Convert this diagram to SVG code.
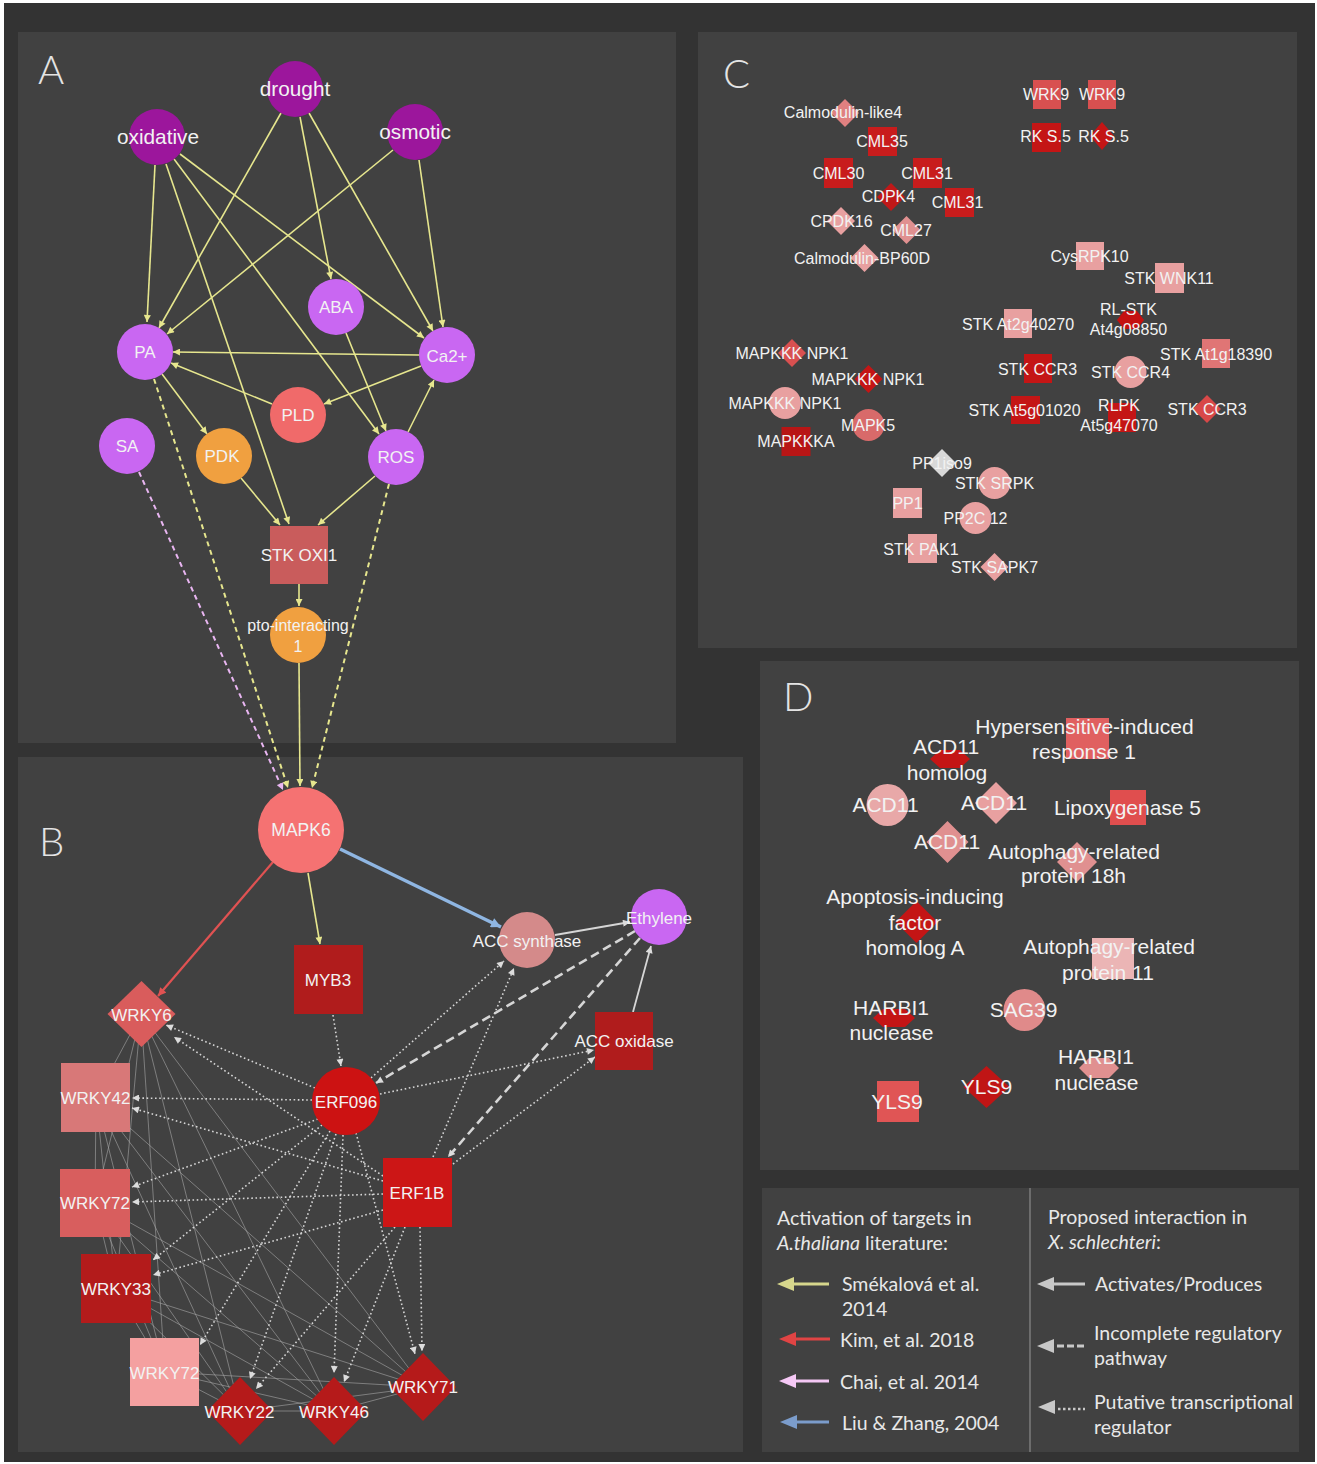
<svg xmlns="http://www.w3.org/2000/svg" width="1317" height="1464" viewBox="0 0 1317 1464">
<style>
.panel{fill:#414141}
.t{font-family:"Liberation Sans",Arial,sans-serif;fill:#f2f2f2;text-anchor:middle;font-size:17px}
.big{font-size:20.8px}
.c{font-size:16px}
.d{font-size:21px}
.lbl{font-family:Lato,"Open Sans",sans-serif;font-weight:300;fill:#e4e4e4;font-size:40px}
.lg{font-family:Lato,"Open Sans",sans-serif;fill:#e8e8e8;font-size:19.5px}
.ey{stroke:#e6e68e;stroke-width:1.6;fill:none;marker-end:url(#my)}
.eyd{stroke:#e6e68e;stroke-width:2;stroke-dasharray:5 4;fill:none;marker-end:url(#my)}
.epd{stroke:#e9b6f2;stroke-width:2;stroke-dasharray:5 4;fill:none;marker-end:url(#mp)}
.er{stroke:#e05252;stroke-width:2.2;fill:none;marker-end:url(#mr)}
.eb{stroke:#8fb6e2;stroke-width:3.5;fill:none;marker-end:url(#mb)}
.eg{stroke:#d6d6d6;stroke-width:1.8;fill:none;marker-end:url(#mg)}
.egd{stroke:#d6d6d6;stroke-width:2.6;stroke-dasharray:9 5;fill:none;marker-end:url(#mg)}
.edot{stroke:#d6d6d6;stroke-width:1.6;stroke-dasharray:1.6 2.6;fill:none;marker-end:url(#mg)}
.mesh{stroke:#a8a8a8;stroke-width:0.8;fill:none;opacity:0.75}
</style>
<defs>
<marker id="my" viewBox="0 0 10 10" refX="10" refY="5" markerWidth="8" markerHeight="7" markerUnits="userSpaceOnUse" orient="auto"><path d="M0,0L10,5L0,10z" fill="#e6e68e"/></marker>
<marker id="mp" viewBox="0 0 10 10" refX="10" refY="5" markerWidth="8" markerHeight="7" markerUnits="userSpaceOnUse" orient="auto"><path d="M0,0L10,5L0,10z" fill="#e9b6f2"/></marker>
<marker id="mr" viewBox="0 0 10 10" refX="10" refY="5" markerWidth="9" markerHeight="8" markerUnits="userSpaceOnUse" orient="auto"><path d="M0,0L10,5L0,10z" fill="#e05252"/></marker>
<marker id="mb" viewBox="0 0 10 10" refX="10" refY="5" markerWidth="11" markerHeight="10" markerUnits="userSpaceOnUse" orient="auto"><path d="M0,0L10,5L0,10z" fill="#8fb6e2"/></marker>
<marker id="mg" viewBox="0 0 10 10" refX="10" refY="5" markerWidth="8" markerHeight="7" markerUnits="userSpaceOnUse" orient="auto"><path d="M0,0L10,5L0,10z" fill="#dcdcdc"/></marker>
</defs>
<rect x="0" y="0" width="1317" height="1464" fill="#ffffff"/>
<rect x="4" y="3" width="1311" height="1459" fill="#333333"/>
<g id="panels">
<rect class="panel" x="18" y="32" width="658" height="711"/>
<rect class="panel" x="18" y="757" width="725" height="695"/>
<rect class="panel" x="698" y="32" width="599" height="616"/>
<rect class="panel" x="760" y="661" width="539" height="509"/>
<rect class="panel" x="762" y="1188" width="537" height="264"/>
<text class="lbl" x="38" y="84">A</text>
<text class="lbl" x="39" y="856">B</text>
<text class="lbl" x="723" y="88">C</text>
<text class="lbl" x="783" y="711">D</text>
</g>
<g id="connectors">
<path class="mesh" d="M141,1014L96,1098M141,1014L95,1203M141,1014L116,1289M141,1014L165,1372M141,1014L240,1411M141,1014L334,1411M141,1014L423,1387M96,1098L95,1203M96,1098L116,1289M96,1098L165,1372M96,1098L240,1411M96,1098L334,1411M96,1098L423,1387M95,1203L116,1289M95,1203L165,1372M95,1203L240,1411M95,1203L334,1411M95,1203L423,1387M116,1289L165,1372M116,1289L240,1411M116,1289L334,1411M116,1289L423,1387M165,1372L240,1411M165,1372L334,1411M165,1372L423,1387M240,1411L334,1411M240,1411L423,1387M334,1411L423,1387"/>
<line class="ey" x1="155" y1="165" x2="147" y2="322"/>
<line class="ey" x1="166" y1="164" x2="289" y2="524"/>
<line class="ey" x1="174" y1="159" x2="379" y2="434"/>
<line class="ey" x1="180" y1="154" x2="424" y2="338"/>
<line class="ey" x1="281" y1="113" x2="159" y2="328"/>
<line class="ey" x1="300" y1="117" x2="331" y2="279"/>
<line class="ey" x1="309" y1="113" x2="433" y2="331"/>
<line class="ey" x1="393" y1="150" x2="167" y2="334"/>
<line class="ey" x1="419" y1="160" x2="443" y2="327"/>
<line class="ey" x1="346" y1="333" x2="386" y2="431"/>
<line class="ey" x1="419" y1="355" x2="173" y2="352"/>
<line class="ey" x1="272" y1="404" x2="171" y2="363"/>
<line class="ey" x1="421" y1="366" x2="324" y2="404"/>
<line class="ey" x1="408" y1="432" x2="434" y2="380"/>
<line class="ey" x1="162" y1="374" x2="207" y2="434"/>
<line class="ey" x1="241" y1="478" x2="280" y2="525"/>
<line class="ey" x1="375" y1="476" x2="318" y2="525"/>
<line class="ey" x1="299" y1="584" x2="299" y2="606"/>
<line class="ey" x1="299" y1="663" x2="300" y2="786"/>
<line class="eyd" x1="154" y1="379" x2="288" y2="788"/>
<line class="eyd" x1="389" y1="484" x2="312" y2="788"/>
<line class="epd" x1="139" y1="472" x2="283" y2="790"/>
<line class="er" x1="273" y1="862" x2="158" y2="996"/>
<line class="ey" x1="308" y1="873" x2="320" y2="944"/>
<line class="eb" x1="340" y1="849" x2="501" y2="927"/>
<line class="eg" x1="555" y1="935" x2="630" y2="922"/>
<line class="eg" x1="633" y1="1012" x2="651" y2="946"/>
<line class="egd" x1="635" y1="931" x2="376" y2="1083"/>
<line class="egd" x1="640" y1="938" x2="448" y2="1157"/>
<line class="edot" x1="333" y1="1015" x2="341" y2="1066"/>
<line class="edot" x1="371" y1="1078" x2="504" y2="961"/>
<line class="edot" x1="433" y1="1157" x2="514" y2="968"/>
<line class="edot" x1="380" y1="1094" x2="594" y2="1050"/>
<line class="edot" x1="453" y1="1164" x2="595" y2="1057"/>
<line class="edot" x1="315" y1="1088" x2="166" y2="1025"/>
<line class="edot" x1="383" y1="1176" x2="174" y2="1037"/>
<line class="edot" x1="312" y1="1100" x2="132" y2="1098"/>
<line class="edot" x1="383" y1="1181" x2="132" y2="1108"/>
<line class="edot" x1="318" y1="1119" x2="132" y2="1187"/>
<line class="edot" x1="383" y1="1194" x2="132" y2="1202"/>
<line class="edot" x1="322" y1="1125" x2="153" y2="1260"/>
<line class="edot" x1="383" y1="1210" x2="153" y2="1275"/>
<line class="edot" x1="330" y1="1131" x2="200" y2="1345"/>
<line class="edot" x1="336" y1="1134" x2="250" y2="1379"/>
<line class="edot" x1="395" y1="1227" x2="256" y2="1389"/>
<line class="edot" x1="343" y1="1135" x2="334" y2="1373"/>
<line class="edot" x1="405" y1="1227" x2="344" y2="1382"/>
<line class="edot" x1="356" y1="1133" x2="415" y2="1354"/>
<line class="edot" x1="420" y1="1227" x2="422" y2="1351"/>
</g>
<g id="nodes-A">
<g id="n-drought"><circle cx="295" cy="89" r="28" fill="#9c169c"/><text class="t big" x="295" y="96">drought</text></g>
<g id="n-oxidative"><circle cx="157" cy="137" r="28" fill="#9c169c"/><text class="t big" x="158" y="144">oxidative</text></g>
<g id="n-osmotic"><circle cx="415" cy="132" r="28" fill="#9c169c"/><text class="t big" x="415" y="139">osmotic</text></g>
<g id="n-ABA"><circle cx="336" cy="307" r="28" fill="#c967f2"/><text class="t" x="336" y="313">ABA</text></g>
<g id="n-PA"><circle cx="145" cy="352" r="28" fill="#c967f2"/><text class="t" x="145" y="358">PA</text></g>
<g id="n-Ca"><circle cx="447" cy="355" r="28" fill="#c967f2"/><text class="t" x="447" y="362">Ca2+</text></g>
<g id="n-PLD"><circle cx="298" cy="415" r="28" fill="#f06a6a"/><text class="t" x="298" y="421">PLD</text></g>
<g id="n-SA"><circle cx="127" cy="446" r="28" fill="#c967f2"/><text class="t" x="127" y="452">SA</text></g>
<g id="n-PDK"><circle cx="224" cy="456" r="28" fill="#f0a040"/><text class="t" x="222" y="462">PDK</text></g>
<g id="n-ROS"><circle cx="396" cy="457" r="28" fill="#c967f2"/><text class="t" x="396" y="463">ROS</text></g>
<g id="n-OXI1"><rect x="270" y="526" width="58" height="58" fill="#c95c5c"/><text class="t" x="299" y="561">STK OXI1</text></g>
<g id="n-pto"><circle cx="298" cy="635" r="28" fill="#f0a040"/><text class="t" style="font-size:16px" x="298" y="631">pto-interacting</text><text class="t" style="font-size:16px" x="298" y="652">1</text></g>
</g>
<g id="nodes-B">
<g id="n-MAPK6"><circle cx="301" cy="830" r="43" fill="#f57272"/><text class="t" style="font-size:17.5px" x="301" y="836">MAPK6</text></g>
<g id="n-ACCs"><circle cx="527" cy="940" r="28" fill="#d48a8a"/><text class="t" x="527" y="947">ACC synthase</text></g>
<g id="n-Ethylene"><circle cx="659" cy="917" r="28" fill="#c967f2"/><text class="t" x="659" y="924">Ethylene</text></g>
<g id="n-MYB3"><rect x="294" y="945" width="69" height="69" fill="#b01c1c"/><text class="t" x="328" y="986">MYB3</text></g>
<g id="n-WRKY6"><polygon points="141.5,981 175.5,1014 141.5,1047 107.5,1014" fill="#d95c5c"/><text class="t" x="141.5" y="1021">WRKY6</text></g>
<g id="n-ACCo"><rect x="595" y="1012" width="58" height="58" fill="#b01c1c"/><text class="t" x="624" y="1047">ACC oxidase</text></g>
<g id="n-ERF096"><circle cx="346" cy="1101" r="34" fill="#cc1212"/><text class="t" x="346" y="1108">ERF096</text></g>
<g id="n-WRKY42"><rect x="61" y="1063" width="69" height="69" fill="#d87878"/><text class="t" x="95.5" y="1104">WRKY42</text></g>
<g id="n-ERF1B"><rect x="383" y="1158" width="69" height="69" fill="#cc1616"/><text class="t" x="417" y="1199">ERF1B</text></g>
<g id="n-WRKY72a"><rect x="60" y="1169" width="70" height="68" fill="#d85e5e"/><text class="t" x="95" y="1209">WRKY72</text></g>
<g id="n-WRKY33"><rect x="81" y="1254" width="70" height="69" fill="#b31b1b"/><text class="t" x="116" y="1295">WRKY33</text></g>
<g id="n-WRKY72b"><rect x="130" y="1338" width="69" height="68" fill="#f4a0a0"/><text class="t" x="164.5" y="1379">WRKY72</text></g>
<g id="n-WRKY22"><polygon points="240,1377 273,1411 240,1445 207,1411" fill="#b51a1a"/><text class="t" x="239.5" y="1418">WRKY22</text></g>
<g id="n-WRKY46"><polygon points="334,1377 367,1411 334,1445 301,1411" fill="#b51a1a"/><text class="t" x="334" y="1418">WRKY46</text></g>
<g id="n-WRKY71"><polygon points="423,1353 456,1387 423,1421 390,1387" fill="#b51a1a"/><text class="t" x="423" y="1393">WRKY71</text></g>
</g>
<g id="nodes-C">
<g id="c1"><polygon points="845,99 859,113 845,127 831,113" fill="#e08080"/><text class="t c" x="843" y="118">Calmodulin-like4</text></g>
<g id="c2"><rect x="868" y="127" width="29" height="29" fill="#c81c1c"/><text class="t c" x="882" y="147">CML35</text></g>
<g id="c3"><rect x="824" y="158" width="29" height="30" fill="#c81c1c"/><text class="t c" x="838.5" y="179">CML30</text></g>
<g id="c4"><rect x="913" y="158" width="29" height="30" fill="#c81c1c"/><text class="t c" x="927" y="179">CML31</text></g>
<g id="c5"><polygon points="891,183 905,197 891,211 877,197" fill="#c01818"/><text class="t c" x="888.5" y="202">CDPK4</text></g>
<g id="c6"><rect x="945" y="188" width="29" height="29" fill="#c81c1c"/><text class="t c" x="957.5" y="208">CML31</text></g>
<g id="c7"><polygon points="841,207 855,221 841,235 827,221" fill="#e8a0a0"/><text class="t c" x="841.5" y="227">CPDK16</text></g>
<g id="c8"><polygon points="906.5,216 920.5,230 906.5,244 892.5,230" fill="#e09090"/><text class="t c" x="906" y="236">CML27</text></g>
<g id="c9"><polygon points="864.5,244 878.5,258 864.5,272 850.5,258" fill="#e8a0a0"/><text class="t c" x="862" y="264">Calmodulin-BP60D</text></g>
<g id="c10"><rect x="1033" y="80" width="28" height="29" fill="#d85050"/><text class="t c" x="1046" y="100">WRK9</text></g>
<g id="c11"><rect x="1088" y="80" width="28" height="29" fill="#d85050"/><text class="t c" x="1102" y="100">WRK9</text></g>
<g id="c12"><rect x="1032" y="123" width="29" height="29" fill="#c41515"/><text class="t c" x="1045.5" y="142">RK S.5</text></g>
<g id="c13"><polygon points="1102,122 1114,136 1102,150 1090,136" fill="#c41515"/><text class="t c" x="1103.5" y="142">RK S.5</text></g>
<g id="c14"><rect x="1076" y="242" width="28" height="28" fill="#e8a0a0"/><text class="t c" x="1089.5" y="262">CysRPK10</text></g>
<g id="c15"><rect x="1155" y="263" width="29" height="30" fill="#e8a0a0"/><text class="t c" x="1169" y="284">STK WNK11</text></g>
<g id="c16"><polygon points="1117,320 1124,311 1137,311 1144,320 1137,329 1124,329" fill="#c41010"/><text class="t c" x="1128.5" y="315">RL-STK</text><text class="t c" x="1128.5" y="335">At4g08850</text></g>
<g id="c17"><rect x="1004" y="309" width="28" height="29" fill="#e8a0a0"/><text class="t c" x="1018" y="330">STK At2g40270</text></g>
<g id="c18"><polygon points="792,339 806,353 792,367 778,353" fill="#d85050"/><text class="t c" x="792" y="359">MAPKKK NPK1</text></g>
<g id="c19"><polygon points="868.5,365 882.5,379 868.5,393 854.5,379" fill="#c41515"/><text class="t c" x="868" y="385">MAPKKK NPK1</text></g>
<g id="c20"><circle cx="785" cy="403" r="16" fill="#e8a0a0"/><text class="t c" x="785" y="409">MAPKKK NPK1</text></g>
<g id="c21"><circle cx="868.5" cy="425" r="16" fill="#d86a6a"/><text class="t c" x="868" y="431">MAPK5</text></g>
<g id="c22"><rect x="781.5" y="427" width="29" height="29" fill="#b81515"/><text class="t c" x="796" y="447">MAPKKKA</text></g>
<g id="c23"><rect x="1024" y="354" width="28" height="29" fill="#c41515"/><text class="t c" x="1037.5" y="375">STK CCR3</text></g>
<g id="c24"><circle cx="1130.5" cy="372" r="16" fill="#e8a0a0"/><text class="t c" x="1130.5" y="378">STK CCR4</text></g>
<g id="c25"><rect x="1202" y="339" width="28" height="29" fill="#e07575"/><text class="t c" x="1216" y="360">STK At1g18390</text></g>
<g id="c26"><rect x="1011" y="396" width="29" height="28" fill="#c41515"/><text class="t c" x="1024.5" y="416">STK At5g01020</text></g>
<g id="c27"><rect x="1108" y="403" width="28" height="29" fill="#c41515"/><text class="t c" x="1119" y="411">RLPK</text><text class="t c" x="1119" y="431">At5g47070</text></g>
<g id="c28"><polygon points="1207,395 1221,409 1207,423 1193,409" fill="#d84848"/><text class="t c" x="1207" y="415">STK CCR3</text></g>
<g id="c29"><polygon points="942,449 956,463 942,477 928,463" fill="#d8d8d8"/><text class="t c" x="942" y="469">PP1iso9</text></g>
<g id="c30"><circle cx="994.5" cy="483" r="16" fill="#e8a0a0"/><text class="t c" x="994.5" y="489">STK SRPK</text></g>
<g id="c31"><rect x="893" y="488" width="29" height="30" fill="#e8a0a0"/><text class="t c" x="907.5" y="509">PP1</text></g>
<g id="c32"><circle cx="975.5" cy="518" r="16" fill="#e8a0a0"/><text class="t c" x="975.5" y="524">PP2C 12</text></g>
<g id="c33"><rect x="908" y="534" width="29" height="29" fill="#e8a0a0"/><text class="t c" x="921" y="555">STK PAK1</text></g>
<g id="c34"><polygon points="994.5,553 1008.5,567 994.5,581 980.5,567" fill="#e8a0a0"/><text class="t c" x="994.5" y="573">STK SAPK7</text></g>
</g>
<g id="nodes-D">
<g id="d1"><rect x="1066" y="718" width="43" height="41" fill="#e06060"/><text class="t d" x="1084.5" y="734">Hypersensitive-induced</text><text class="t d" x="1084" y="759">response 1</text></g>
<g id="d2"><polygon points="930,759 940,750 960,750 970,759 960,768 940,768" fill="#c41515"/><text class="t d" x="946" y="754">ACD11</text><text class="t d" x="947" y="780">homolog</text></g>
<g id="d3"><circle cx="887.5" cy="805" r="21" fill="#e8a8a8"/><text class="t d" x="885.5" y="812">ACD11</text></g>
<g id="d4"><polygon points="996,782 1017,803 996,824 975,803" fill="#e8a0a0"/><text class="t d" x="994" y="810">ACD11</text></g>
<g id="d5"><rect x="1110" y="790" width="36" height="35" fill="#e04e4e"/><text class="t d" x="1127.5" y="815">Lipoxygenase 5</text></g>
<g id="d6"><polygon points="947.5,821 968.5,842 947.5,863 926.5,842" fill="#e09090"/><text class="t d" x="947" y="849">ACD11</text></g>
<g id="d7"><polygon points="1077,842 1097,862 1077,882 1057,862" fill="#e09090"/><text class="t d" x="1074" y="859">Autophagy-related</text><text class="t d" x="1073.5" y="883">protein 18h</text></g>
<g id="d8"><polygon points="916.5,901 937.5,922 916.5,943 895.5,922" fill="#c41515"/><text class="t d" x="915" y="904">Apoptosis-inducing</text><text class="t d" x="915" y="930">factor</text><text class="t d" x="915" y="955">homolog A</text></g>
<g id="d9"><rect x="1092" y="938" width="42" height="41" fill="#ebb5b5"/><text class="t d" x="1109" y="954">Autophagy-related</text><text class="t d" x="1108" y="980">protein 11</text></g>
<g id="d10"><polygon points="873,1018 883,1009 905,1009 915,1018 905,1027 883,1027" fill="#c41515"/><text class="t d" x="891" y="1015">HARBI1</text><text class="t d" x="891.5" y="1040">nuclease</text></g>
<g id="d11"><circle cx="1024.5" cy="1010" r="21" fill="#e08a8a"/><text class="t d" x="1023.5" y="1017">SAG39</text></g>
<g id="d12"><polygon points="1079,1068 1089,1058 1109,1058 1119,1068 1109,1078 1089,1078" fill="#e09090"/><text class="t d" x="1096" y="1064">HARBI1</text><text class="t d" x="1096.5" y="1090">nuclease</text></g>
<g id="d13"><rect x="877" y="1081" width="42" height="41" fill="#e05555"/><text class="t d" x="897" y="1109">YLS9</text></g>
<g id="d14"><polygon points="986.5,1066 1009.5,1087 986.5,1108 963.5,1087" fill="#c01515"/><text class="t d" x="986.5" y="1094">YLS9</text></g>
</g>
<g id="legend">
<line x1="1030" y1="1188" x2="1030" y2="1452" stroke="#8a8a8a" stroke-width="1.2"/>
<text class="lg" x="777" y="1225">Activation of targets in</text>
<text class="lg" x="777" y="1250"><tspan font-style="italic">A.thaliana</tspan> literature:</text>
<polygon points="777,1284 794,1277 794,1291" fill="#d6d68c"/><line x1="793" y1="1284" x2="829" y2="1284" stroke="#d6d68c" stroke-width="3"/>
<text class="lg" x="842" y="1291">Smékalová et al.</text>
<text class="lg" x="842" y="1316">2014</text>
<polygon points="779,1339 796,1332 796,1346" fill="#e04444"/><line x1="795" y1="1339" x2="830" y2="1339" stroke="#e04444" stroke-width="3"/>
<text class="lg" x="840" y="1347">Kim, et al. 2018</text>
<polygon points="779,1381 796,1374 796,1388" fill="#f5c8f5"/><line x1="795" y1="1381" x2="829" y2="1381" stroke="#f5c8f5" stroke-width="3"/>
<text class="lg" x="840" y="1389">Chai, et al. 2014</text>
<polygon points="780,1422 797,1415 797,1429" fill="#7b9ccb"/><line x1="796" y1="1422" x2="829" y2="1422" stroke="#7b9ccb" stroke-width="3"/>
<text class="lg" x="842" y="1430">Liu &amp; Zhang, 2004</text>
<text class="lg" x="1048" y="1224">Proposed interaction in</text>
<text class="lg" x="1048" y="1249"><tspan font-style="italic">X. schlechteri</tspan>:</text>
<polygon points="1037,1284 1054,1277 1054,1291" fill="#c8c8c8"/><line x1="1053" y1="1284" x2="1085" y2="1284" stroke="#c8c8c8" stroke-width="3"/>
<text class="lg" x="1095" y="1291">Activates/Produces</text>
<polygon points="1037,1346 1054,1339 1054,1353" fill="#c8c8c8"/><line x1="1057" y1="1346" x2="1085" y2="1346" stroke="#c8c8c8" stroke-width="3" stroke-dasharray="7 3"/>
<text class="lg" x="1094" y="1340">Incomplete regulatory</text>
<text class="lg" x="1094" y="1365">pathway</text>
<polygon points="1038,1407 1055,1400 1055,1414" fill="#c8c8c8"/><line x1="1058" y1="1409" x2="1085" y2="1409" stroke="#c8c8c8" stroke-width="2.5" stroke-dasharray="2.5 2.5"/>
<text class="lg" x="1094" y="1409">Putative transcriptional</text>
<text class="lg" x="1094" y="1434">regulator</text>
</g>
</svg>
